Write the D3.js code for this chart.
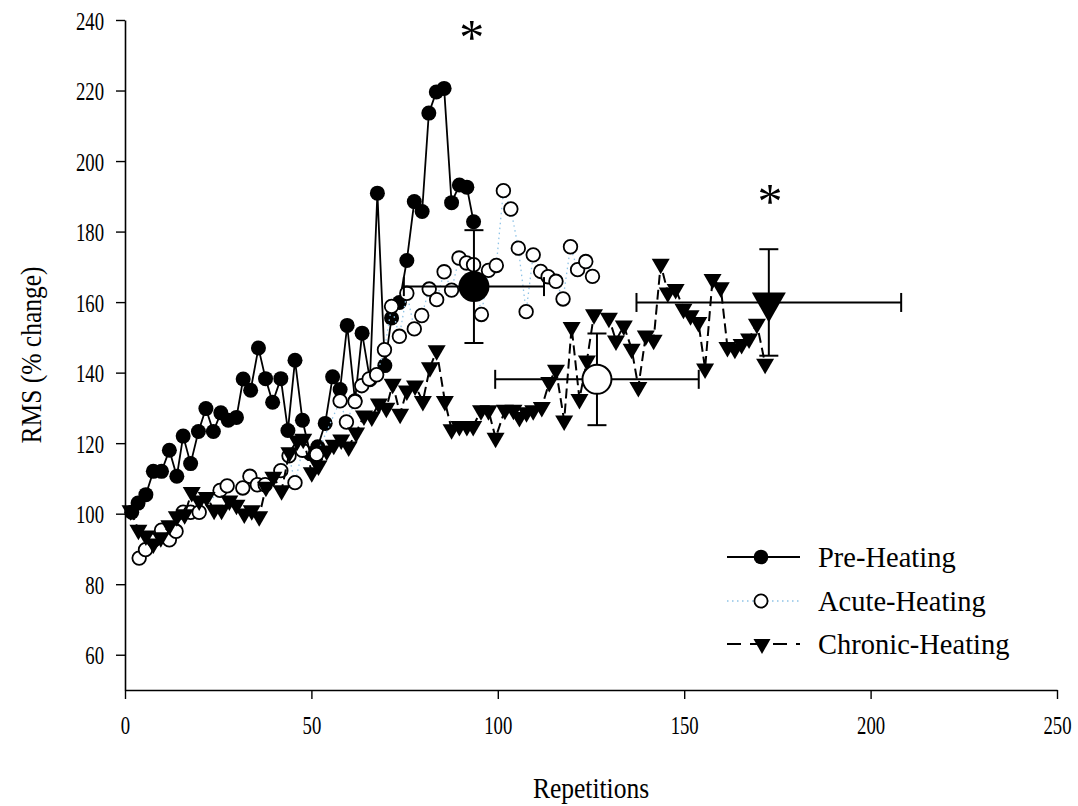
<!DOCTYPE html>
<html>
<head>
<meta charset="utf-8">
<script src="https://cdn.jsdelivr.net/npm/d3@7"></script>
<style>
  html, body { margin: 0; padding: 0; background: #fff; }
  svg { display: block; }
  text { font-family: "Liberation Serif", "Times New Roman", serif; fill: #000; }
</style>
</head>
<body>
<svg id="chart" width="1078" height="806"></svg>
<script>
// ---------------- DATA ----------------
const preX = [1.8, 3.5, 5.6, 7.6, 9.8, 11.9, 13.9, 15.6, 17.6, 19.7, 21.7, 23.7, 25.7, 27.7, 29.9, 31.7, 33.7, 35.8, 37.7, 39.6, 41.8, 43.7, 45.6, 47.6, 49.7, 51.7, 53.7, 55.7, 57.7, 59.6, 61.7, 63.6, 65.7, 67.7, 69.7, 71.5, 73.6, 75.6, 77.6, 79.7, 81.5, 83.5, 85.6, 87.6, 89.7, 91.7, 93.5];
const preY = [100.4, 103, 105.4, 112, 112, 118, 110.6, 122, 114.2, 123.3, 129.8, 123.3, 128.6, 126.5, 127.3, 138.2, 135, 147, 138.3, 131.6, 138.3, 123.6, 143.5, 126.5, 117, 119, 125.6, 138.8, 135.2, 153.4, 132, 151.2, 138, 190.9, 142, 155.5, 159.9, 171.8, 188.5, 185.7, 213.6, 219.6, 220.6, 188.2, 193.2, 192.6, 182.8];

const acuteX = [3.8, 5.5, 7.7, 9.8, 11.9, 13.7, 15.6, 17.6, 19.9, 25.5, 27.4, 31.6, 33.5, 35.5, 37.6, 41.8, 44.0, 45.6, 47.6, 51.4, 57.7, 59.4, 61.7, 63.5, 65.5, 67.5, 69.6, 71.5, 73.6, 75.6, 77.6, 79.6, 81.6, 83.6, 85.6, 87.6, 89.6, 91.6, 93.5, 95.6, 97.5, 99.6, 101.5, 103.5, 105.5, 107.6, 109.5, 111.5, 113.5, 115.6, 117.5, 119.5, 121.4, 123.6, 125.4];
const acuteY = [87.4, 89.8, 92.5, 95.3, 92.6, 95, 100.4, 100.4, 100.4, 106.6, 107.9, 107.3, 110.6, 108.2, 108.2, 112.2, 116.4, 108.8, 118, 116.8, 132, 126, 131.8, 136.3, 138.2, 139.4, 146.5, 158.8, 150.3, 162.5, 152.4, 156.2, 163.7, 160.7, 168.6, 163.4, 172.5, 171.1, 170.6, 156.5, 169, 170.4, 191.6, 186.4, 175.3, 157.3, 173.4, 168.7, 167.2, 165.9, 160.9, 175.7, 169.2, 171.5, 167.3];

const chronicX = [1.5, 3.6, 5.6, 7.6, 9.6, 11.9, 13.9, 16.0, 17.9, 19.9, 21.9, 23.9, 25.9, 28.0, 29.9, 32.0, 34.0, 36.0, 37.8, 39.8, 42.0, 44.1, 46.2, 47.8, 50.1, 51.9, 54.1, 56.0, 58.0, 60.0, 62.0, 64.1, 66.2, 68.1, 70.1, 71.8, 73.8, 75.6, 77.8, 79.9, 81.8, 83.6, 85.8, 87.6, 89.7, 91.7, 93.4, 95.5, 97.5, 99.4, 101.9, 104.2, 105.8, 107.7, 109.5, 111.8, 113.8, 115.6, 117.8, 119.8, 121.9, 123.9, 125.8, 129.8, 131.7, 133.8, 135.9, 137.7, 139.7, 141.8, 143.7, 145.6, 147.7, 149.8, 151.7, 153.8, 155.6, 157.6, 159.8, 161.6, 163.6, 165.4, 167.4, 169.5, 171.7];
const chronicY = [100.9, 95.4, 93.8, 91.5, 93.3, 96.7, 99.2, 99.8, 106.1, 103.7, 104.7, 101.1, 101.1, 103.7, 102.5, 100, 100.9, 99.2, 107.6, 110.4, 106.6, 117.4, 120.7, 121.2, 111.7, 113.6, 117.9, 119.5, 121, 119, 123, 127.8, 127.5, 131.2, 130, 136.8, 128.3, 134.9, 136.3, 131.9, 141.5, 146.3, 131.9, 123.9, 124.8, 124.8, 124.8, 129.3, 129.3, 121.5, 129.4, 129.4, 127.4, 128.7, 129.3, 130.2, 137.3, 140.8, 126.4, 152.9, 132.5, 143.4, 156.5, 155.5, 149.1, 153.3, 146.7, 135.9, 150.5, 149.3, 170.8, 162.7, 163.7, 158.1, 156.2, 154.3, 141.1, 166.5, 164.2, 147.2, 146.7, 148.1, 149.6, 153.8, 142.5];

// group means with SD bars (Pre, Acute, Chronic)
const meanX = [93.6, 126.6, 172.7];
const meanXErr = [18.8, 27.3, 35.5];
const meanY = [164.4, 138.1, 159.9];
const meanYErr = [16.0, 13.0, 15.1];

// significance markers
const starX = [93.0, 173.0];
const starY = [238.0, 191.5];

const seriesNames = ["Pre-Heating", "Acute-Heating", "Chronic-Heating"];
const xTicks = [0, 50, 100, 150, 200, 250];
const yTicks = [60, 80, 100, 120, 140, 160, 180, 200, 220, 240];

// ---------------- CHART ----------------
const svg = d3.select("#chart");
const x = d3.scaleLinear().domain([0, 250]).range([125, 1057]);
const y = d3.scaleLinear().domain([50, 240]).range([690, 20]);

const xAxis = d3.axisBottom(x).tickValues(xTicks).tickSize(9).tickSizeOuter(0).tickFormat(d3.format("d"));
const yAxis = d3.axisLeft(y).tickValues(yTicks).tickSize(9).tickSizeOuter(0).tickFormat(d3.format("d"));

const gx = svg.append("g").attr("transform", `translate(0,${y(50)})`).call(xAxis);
const gy = svg.append("g").attr("transform", `translate(${x(0)},0)`).call(yAxis);
[gx, gy].forEach(g => {
  g.select(".domain").attr("stroke", "#000").attr("stroke-width", 1.6);
  g.selectAll(".tick line").attr("stroke", "#000").attr("stroke-width", 1.4);
  g.selectAll(".tick text").attr("font-size", 26).attr("font-family", "Liberation Serif");
});
gx.selectAll(".tick text").attr("dy", null).attr("y", 0)
  .attr("transform", "translate(0,44) scale(0.72,1)");
gy.selectAll(".tick text").attr("dy", null).attr("x", 0)
  .attr("transform", "translate(-21,9) scale(0.72,1)");

// axis titles
svg.append("text").attr("text-anchor", "middle")
  .attr("transform", `translate(${(x(0)+x(250))/2},798) scale(0.88,1)`)
  .attr("font-size", 29).text("Repetitions");
svg.append("text").attr("text-anchor", "middle")
  .attr("transform", `translate(41,${(y(50)+y(240))/2}) rotate(-90) scale(0.88,1)`)
  .attr("font-size", 29).text("RMS (% change)");

function triPath(w, h) {
  return `M${-w/2},${-h/3}L${w/2},${-h/3}L0,${2*h/3}Z`;
}
const line = d3.line().x(d => x(d[0])).y(d => y(d[1]));

const pre = preX.map((v, i) => [v, preY[i]]);
const acute = acuteX.map((v, i) => [v, acuteY[i]]);
const chronic = chronicX.map((v, i) => [v, chronicY[i]]);

// Pre-Heating
svg.append("path").datum(pre).attr("d", line)
  .attr("fill", "none").attr("stroke", "#000").attr("stroke-width", 1.8);
svg.append("g").selectAll("circle").data(pre).join("circle")
  .attr("cx", d => x(d[0])).attr("cy", d => y(d[1])).attr("r", 7.5)
  .attr("fill", "#000");

// Acute-Heating
svg.append("path").datum(acute).attr("d", line)
  .attr("fill", "none").attr("stroke", "#8fc3e6").attr("stroke-width", 1.3)
  .attr("stroke-dasharray", "1.5,3.5");
svg.append("g").selectAll("circle").data(acute).join("circle")
  .attr("cx", d => x(d[0])).attr("cy", d => y(d[1])).attr("r", 6.8)
  .attr("fill", "#fff").attr("stroke", "#000").attr("stroke-width", 1.8);

// Chronic-Heating
svg.append("path").datum(chronic).attr("d", line)
  .attr("fill", "none").attr("stroke", "#000").attr("stroke-width", 2)
  .attr("stroke-dasharray", "10,5");
svg.append("g").selectAll("path").data(chronic).join("path")
  .attr("d", triPath(18, 15.5))
  .attr("transform", d => `translate(${x(d[0])},${y(d[1])})`)
  .attr("fill", "#000");

// Means with error bars
const cap = 9.5;
const eb = svg.append("g").attr("stroke", "#000").attr("stroke-width", 2).attr("fill", "none");
meanX.forEach((mx, i) => {
  const cx = x(mx), cy = y(meanY[i]);
  const x0 = x(mx - meanXErr[i]), x1 = x(mx + meanXErr[i]);
  const y0 = y(meanY[i] - meanYErr[i]), y1 = y(meanY[i] + meanYErr[i]);
  eb.append("line").attr("x1", x0).attr("x2", x1).attr("y1", cy).attr("y2", cy);
  eb.append("line").attr("x1", x0).attr("x2", x0).attr("y1", cy - cap).attr("y2", cy + cap);
  eb.append("line").attr("x1", x1).attr("x2", x1).attr("y1", cy - cap).attr("y2", cy + cap);
  eb.append("line").attr("x1", cx).attr("x2", cx).attr("y1", y0).attr("y2", y1);
  eb.append("line").attr("x1", cx - cap).attr("x2", cx + cap).attr("y1", y0).attr("y2", y0);
  eb.append("line").attr("x1", cx - cap).attr("x2", cx + cap).attr("y1", y1).attr("y2", y1);
});
svg.append("circle").attr("cx", x(meanX[0])).attr("cy", y(meanY[0])).attr("r", 15.5).attr("fill", "#000");
svg.append("circle").attr("cx", x(meanX[1])).attr("cy", y(meanY[1])).attr("r", 14.5)
  .attr("fill", "#fff").attr("stroke", "#000").attr("stroke-width", 2);
svg.append("path").attr("d", triPath(34, 30))
  .attr("transform", `translate(${x(meanX[2])},${y(meanY[2])})`).attr("fill", "#000");

// significance asterisks
svg.append("g").selectAll("text").data(starX).join("text")
  .attr("x", d => x(d)).attr("y", (d, i) => y(starY[i]) + 27)
  .attr("text-anchor", "middle").attr("font-size", 50).text("*");

// Legend
const legY = [557, 601, 644];
const leg = svg.append("g");
leg.append("line").attr("x1", 727).attr("x2", 800).attr("y1", legY[0]).attr("y2", legY[0])
  .attr("stroke", "#000").attr("stroke-width", 1.8);
leg.append("circle").attr("cx", 761).attr("cy", legY[0]).attr("r", 7.3).attr("fill", "#000");
leg.append("line").attr("x1", 727).attr("x2", 800).attr("y1", legY[1]).attr("y2", legY[1])
  .attr("stroke", "#8fc3e6").attr("stroke-width", 1.3).attr("stroke-dasharray", "1.5,3.5");
leg.append("circle").attr("cx", 761).attr("cy", legY[1]).attr("r", 6.6)
  .attr("fill", "#fff").attr("stroke", "#000").attr("stroke-width", 1.8);
leg.append("line").attr("x1", 727).attr("x2", 800).attr("y1", legY[2]).attr("y2", legY[2])
  .attr("stroke", "#000").attr("stroke-width", 2).attr("stroke-dasharray", "14,9");
leg.append("path").attr("d", triPath(17, 15))
  .attr("transform", `translate(762,${legY[2]})`).attr("fill", "#000");
leg.selectAll("text.lab").data(seriesNames).join("text").attr("class", "lab")
  .attr("transform", (d, i) => `translate(818,${legY[i] + 10}) scale(0.95,1)`)
  .attr("font-size", 30).text(d => d);
</script>
</body>
</html>
